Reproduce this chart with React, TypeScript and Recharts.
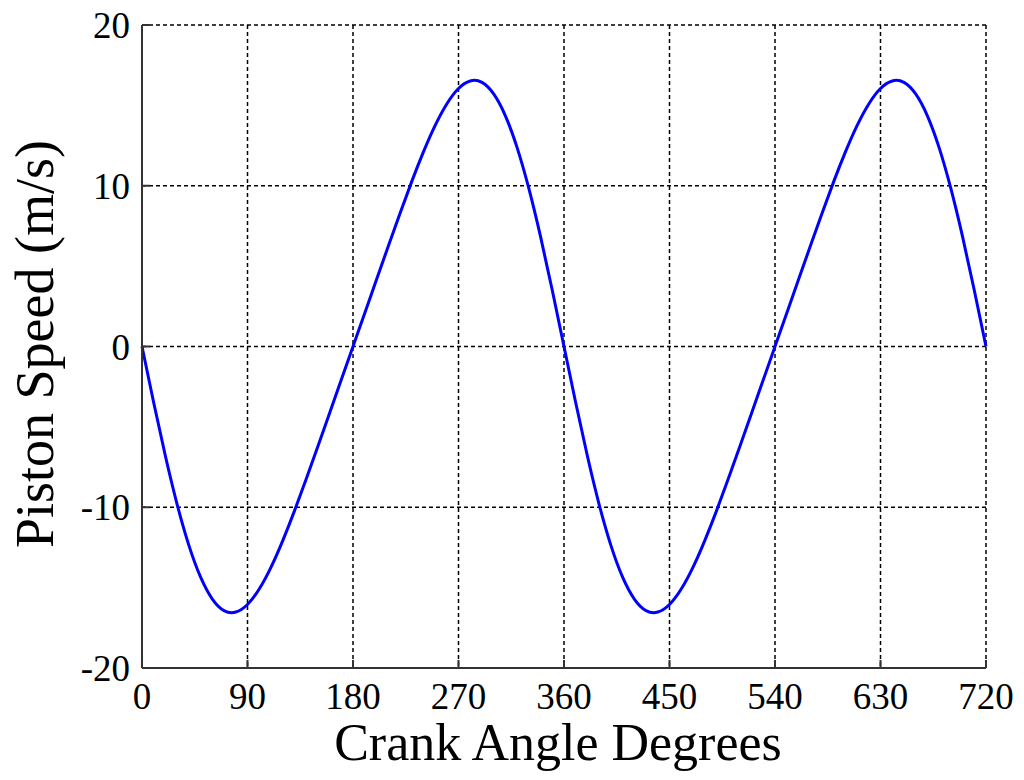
import React from 'react';
import { LineChart, Line, XAxis, YAxis, CartesianGrid } from 'recharts';

// crank angle (deg)
const angles = [
  0, 10, 20, 30, 40, 50, 60, 70, 80, 90, 100, 110, 120, 130, 140, 150, 160, 170,
  180, 190, 200, 210, 220, 230, 240, 250, 260, 270, 280, 290, 300, 310, 320, 330, 340, 350,
  360, 370, 380, 390, 400, 410, 420, 430, 440, 450, 460, 470, 480, 490, 500, 510, 520, 530,
  540, 550, 560, 570, 580, 590, 600, 610, 620, 630, 640, 650, 660, 670, 680, 690, 700, 710, 720,
];

// piston speed (m/s), estimated from the curve
const speeds = [
  0, -3.5, -6.83, -9.83, -12.37, -14.35, -15.71, -16.43, -16.52, -16.05, -15.09, -13.74, -12.09, -10.24, -8.26, -6.22, -4.15, -2.07,
  0, 2.07, 4.15, 6.22, 8.26, 10.24, 12.09, 13.74, 15.09, 16.05, 16.52, 16.43, 15.71, 14.35, 12.37, 9.83, 6.83, 3.5,
  0, -3.5, -6.83, -9.83, -12.37, -14.35, -15.71, -16.43, -16.52, -16.05, -15.09, -13.74, -12.09, -10.24, -8.26, -6.22, -4.15, -2.07,
  0, 2.07, 4.15, 6.22, 8.26, 10.24, 12.09, 13.74, 15.09, 16.05, 16.52, 16.43, 15.71, 14.35, 12.37, 9.83, 6.83, 3.5, 0,
];

const xTicks = [0, 90, 180, 270, 360, 450, 540, 630, 720];
const yTicks = [-20, -10, 0, 10, 20];

const xTitle = 'Crank Angle Degrees';
const yTitle = 'Piston Speed (m/s)';

const data = angles.map((a, i) => ({ angle: a, speed: speeds[i] }));

const FONT = '"Liberation Serif", "Times New Roman", serif';
const BOX = '#333';
const tickStyle = { fontFamily: FONT, fontSize: 37, fill: '#000' };
const noLabel = () => <g />;

const XTitle = (props: any) => {
  const { viewBox } = props;
  return (
    <text x={viewBox.x + viewBox.width / 2 - 6} y={760} textAnchor="middle"
      fontFamily={FONT} fontSize={52} fill="#000">
      {xTitle}
    </text>
  );
};

const YTitle = () => (
  <text x={0} y={0} transform="translate(53, 344) rotate(-90)" textAnchor="middle"
    fontFamily={FONT} fontSize={54} fill="#000">
    {yTitle}
  </text>
);

export default function App() {
  return (
    <div style={{ position: 'absolute', left: 0, top: 0, background: '#fff' }}>
      <LineChart width={1024} height={780} data={data}
        margin={{ top: 25, right: 38, left: 0, bottom: 0 }}>
        <CartesianGrid stroke="#000" strokeWidth={1.5} strokeDasharray="4 3" />
        <XAxis dataKey="angle" type="number" domain={[0, 720]} ticks={xTicks}
          height={112} tick={tickStyle} tickSize={-8} tickMargin={23}
          axisLine={{ stroke: BOX, strokeWidth: 2 }} tickLine={{ stroke: BOX, strokeWidth: 2 }}
          label={<XTitle />} />
        <XAxis xAxisId="top" orientation="top" dataKey="angle" type="number" domain={[0, 720]}
          ticks={xTicks} height={0} tick={noLabel} tickSize={-8}
          axisLine={{ stroke: BOX, strokeWidth: 2 }} tickLine={{ stroke: BOX, strokeWidth: 2 }} />
        <YAxis type="number" domain={[-20, 20]} ticks={yTicks} width={142}
          tick={tickStyle} tickSize={-8} tickMargin={20}
          axisLine={{ stroke: BOX, strokeWidth: 2 }} tickLine={{ stroke: BOX, strokeWidth: 2 }}
          label={<YTitle />} />
        <YAxis yAxisId="right" orientation="right" type="number" domain={[-20, 20]} ticks={yTicks}
          width={0} tick={noLabel} tickSize={-8}
          axisLine={{ stroke: BOX, strokeWidth: 2 }} tickLine={{ stroke: BOX, strokeWidth: 2 }} />
        <Line type="natural" dataKey="speed" stroke="#0000ff" strokeWidth={3}
          dot={false} isAnimationActive={false} />
      </LineChart>
    </div>
  );
}
